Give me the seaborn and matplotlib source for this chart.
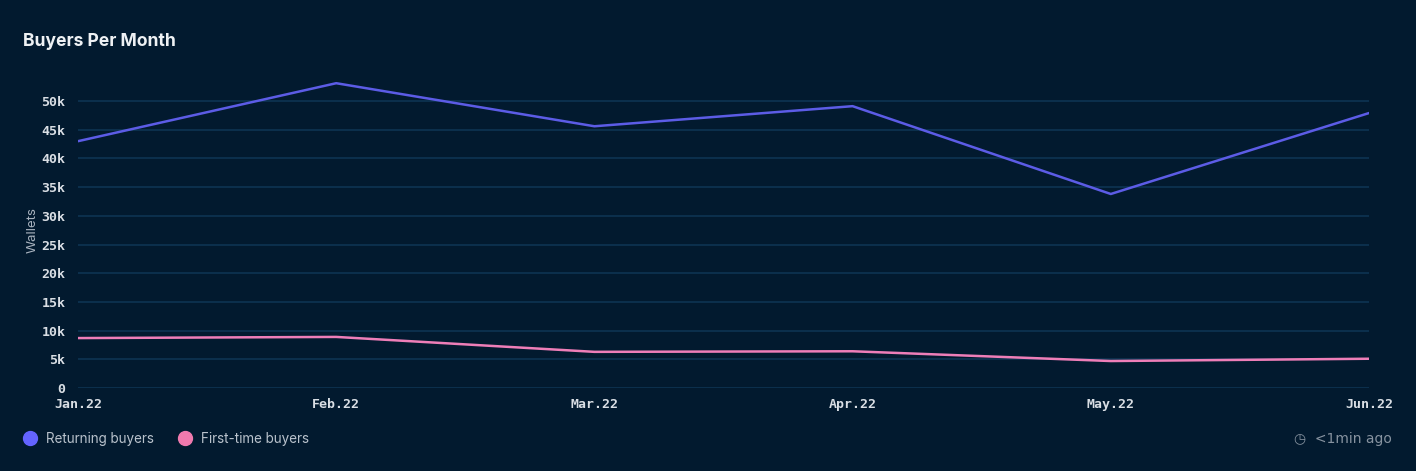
import matplotlib
matplotlib.use("Agg")
import matplotlib.pyplot as plt
from matplotlib.lines import Line2D
import seaborn as sns
import pandas as pd

months = ["Jan.22", "Feb.22", "Mar.22", "Apr.22", "May.22", "Jun.22"]
returning_buyers = [43000, 53100, 45600, 49100, 33800, 47900]
first_time_buyers = [8700, 8900, 6300, 6400, 4700, 5100]
series_names = ["Returning buyers", "First-time buyers"]
series_colors = ["#5c5ce6", "#ee7eb8"]
legend_colors = ["#6464ff", "#f07aae"]
y_ticks = [0, 5000, 10000, 15000, 20000, 25000, 30000, 35000, 40000, 45000, 50000]
y_tick_labels = ["0", "5k", "10k", "15k", "20k", "25k", "30k", "35k", "40k", "45k", "50k"]

df = pd.DataFrame({
    "month": list(range(len(months))) * 2,
    "value": returning_buyers + first_time_buyers,
    "series": [series_names[0]] * len(months) + [series_names[1]] * len(months),
})

sns.set_theme(style="dark")
plt.rcParams["font.family"] = ["Inter", "DejaVu Sans"]

bg = "#021a2f"
fig = plt.figure(figsize=(14.16, 4.71), dpi=100, facecolor=bg)
ax = fig.add_axes([0.0551, 0.1762, 0.9117, 0.6703])
ax.set_facecolor(bg)

sns.lineplot(data=df, x="month", y="value", hue="series", hue_order=series_names,
             palette=series_colors, linewidth=1.8, legend=False, ax=ax)

ax.set_xlim(0, len(months) - 1)
ax.set_ylim(0, 55000)
ax.set_yticks(y_ticks)
ax.set_yticklabels(y_tick_labels)
ax.set_xticks(range(len(months)))
ax.set_xticklabels(months)
for lbl in ax.get_xticklabels() + ax.get_yticklabels():
    lbl.set_family("DejaVu Sans Mono")
    lbl.set_fontweight("bold")
    lbl.set_fontsize(9.5)
    lbl.set_color("#d9dee4")
ax.tick_params(axis="x", length=0, pad=7)
ax.tick_params(axis="y", length=0, pad=9)
ax.grid(axis="y", color="#0e3656", linewidth=1.1)
ax.grid(axis="x", visible=False)
for s in ax.spines.values():
    s.set_visible(False)
ax.set_xlabel("")
ax.set_ylabel("Wallets", color="#a9b3bf", fontsize=9.5, labelpad=2)

fig.text(23 / 1416, 1 - 41 / 471, "Buyers Per Month", color="#eef1f4", fontsize=12.6,
         fontweight="bold", va="center", ha="left")

handles = [Line2D([], [], marker="o", linestyle="", markersize=10,
                  markerfacecolor=c, markeredgecolor=c) for c in legend_colors]
leg = fig.legend(handles, series_names, loc="center left",
                 bbox_to_anchor=(10 / 1416, 1 - 439 / 471), ncol=2, frameon=False,
                 fontsize=9.7, handletextpad=0.6, columnspacing=1.7, handlelength=1.2)
for t in leg.get_texts():
    t.set_color("#b9c2cc")

fig.text(1392 / 1416, 1 - 439 / 471, "◷  <1min ago", color="#8793a0", fontsize=10,
         ha="right", va="center", family=["DejaVu Sans"])

fig.savefig("out.png", dpi=100, facecolor=bg)
